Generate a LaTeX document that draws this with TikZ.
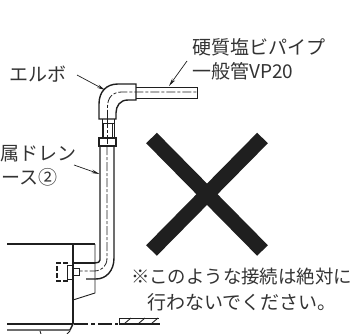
\documentclass[tikz,border=0pt]{standalone}
\usepackage{fontspec}
\setmainfont{Noto Sans CJK JP}
\definecolor{ink}{gray}{0.12}
\definecolor{txt}{gray}{0.2}
\usetikzlibrary{arrows.meta}
\tikzset{
 lbl/.style={font=\fontsize{19}{22}\selectfont,text=txt,inner sep=0pt},
 lbls/.style={font=\fontsize{18.4}{22}\selectfont,text=txt,inner sep=0pt},
 pipe/.style={line width=1.4pt,draw=ink},
 thin pipe/.style={line width=0.9pt,draw=ink},
 center dash/.style={line width=0.8pt,draw=ink,dash pattern=on 9pt off 2pt on 3pt off 2pt},
 leader/.style={line width=0.7pt,draw=ink,-{Stealth[length=8pt,width=3.5pt]}},
 crossbar/.style={line width=15pt,draw=ink,line cap=butt}
}
\begin{document}
\begin{tikzpicture}[x=1pt,y=-1pt]
\useasboundingbox (0,0) rectangle (353,334);
% labels
\node[lbl,anchor=east] (elbow) at (67,74) {エルボ};
\node[lbl,anchor=west] (vp1) at (192,47) {硬質塩ビパイプ};
\node[lbl,anchor=west] (vp2) at (192,71) {一般管VP20};
\node[lbl,anchor=east] (hose1) at (77,153) {金属ドレン};
\node[lbl,anchor=east] (hose2) at (58,177) {ホース②};
\node[lbls,anchor=east] (note1) at (352,277) {※このような接続は絶対に};
\node[lbl,anchor=center] (note2) at (242,302) {行わないでください。};
% leader ends
\coordinate (e1) at (77,75); \coordinate (e2) at (105,90);
\coordinate (v1) at (187,61); \coordinate (v2) at (169,86);
\coordinate (h1) at (74,165); \coordinate (h2) at (99.5,174);
\draw[leader] (e1) -- (e2);
\draw[leader] (v1) -- (v2);
\draw[leader] (h1) -- (h2);
% elbow
\draw[pipe] (99,119) -- (99,104) .. controls (99,92) and (106,84) .. (118,84) -- (136,84) -- (136,100) -- (128,100) .. controls (120,100) and (116,106) .. (116,113) -- (116,119) -- cycle;
\draw[center dash] (107.5,119) -- (107.5,107) .. controls (107.5,97) and (113,92) .. (122,92) -- (197,92);
% horizontal pipe
\draw[thin pipe] (136,87) -- (197,87) -- (197,98) -- (136,98);
% coupling
\draw[thin pipe] (102,119) -- (102,138); \draw[thin pipe] (114,119) -- (114,138);
\draw[line width=1.8pt,draw=ink] (103.5,123) -- (103.5,137); \draw[line width=1.8pt,draw=ink] (112.5,123) -- (112.5,137);
\draw[thin pipe] (102,123) -- (114,123);
\draw[pipe] (99,138) rectangle (116,146);
\draw[center dash] (107.5,119) -- (107.5,146);
% vertical pipe with bend
\draw[pipe] (100,146) -- (100,260) .. controls (100,262) and (98,263) .. (95,263);
\draw[pipe] (114,146) -- (114,258) .. controls (114,271) and (106,279) .. (96,279) -- (86,279);
\draw[center dash] (107,146) -- (107,258) .. controls (107,266) and (102,271) .. (94,271) -- (80,271);
% box
\draw[pipe] (7,244) -- (95,244);
\draw[pipe] (73,244) -- (73,324);
\draw[thin pipe] (95,244) -- (95,293) -- (73,300);
\draw[line width=2pt,draw=ink] (73,263) -- (95,263);
% valve stub
\draw[pipe,dash pattern=on 5pt off 2pt] (68,263) -- (57,263) -- (57,281) -- (68,281);
\draw[thin pipe] (67,265) -- (73,265) (67,279) -- (73,279) (67,265) -- (67,279);
\draw[thin pipe] (73,268) -- (79,268) -- (79,275) -- (73,275);
% floor
\draw[pipe] (7,324) -- (73,324);
\draw[pipe] (7,330) -- (70,330) -- (73,324);
\draw[thin pipe] (40,331) -- (41,334) (70,331) -- (67,334);
\draw[line width=1.2pt,draw=ink,dash pattern=on 14pt off 3pt on 4pt off 3pt] (74,324) -- (118,324);
% hatch
\draw[thin pipe] (119,324) -- (119,318) -- (159,318);
\draw[pipe] (119,324) -- (160,324);
\draw[thin pipe] (124,324) -- (131,318) (138,324) -- (145,318) (151,324) -- (158,318);
% cross
\coordinate (x1) at (151.5,138); \coordinate (x2) at (262.5,250.5);
\coordinate (x3) at (262.5,138); \coordinate (x4) at (151.5,250.5);
\draw[crossbar] (x1) -- (x2);
\draw[crossbar] (x3) -- (x4);
\end{tikzpicture}
\end{document}
